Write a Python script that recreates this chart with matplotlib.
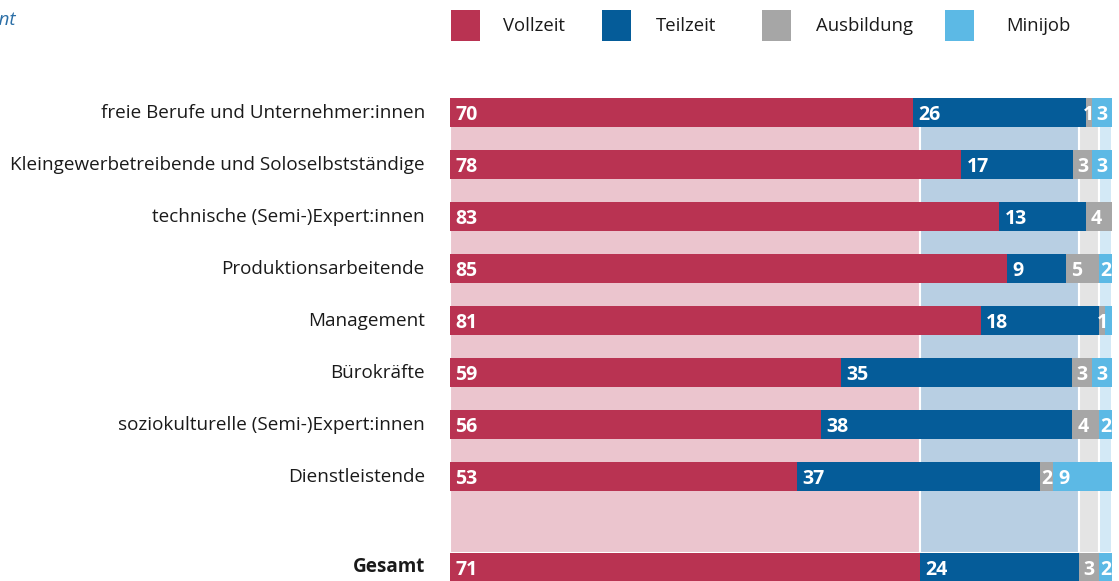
import matplotlib
matplotlib.use("Agg")
from matplotlib import pyplot as plt
from matplotlib.patches import Rectangle

plt.rcParams["font.family"] = ["Open Sans", "DejaVu Sans"]

kategorien = ["freie Berufe und Unternehmer:innen",
              "Kleingewerbetreibende und Soloselbstständige",
              "technische (Semi-)Expert:innen",
              "Produktionsarbeitende",
              "Management",
              "Bürokräfte",
              "soziokulturelle (Semi-)Expert:innen",
              "Dienstleistende",
              "Gesamt"]
vollzeit = [70, 78, 83, 85, 81, 59, 56, 53, 71]
teilzeit = [26, 17, 13, 9, 18, 35, 38, 37, 24]
ausbildung = [1, 3, 4, 5, 1, 3, 4, 2, 3]
minijob = [3, 3, 0, 2, 1, 3, 2, 9, 2]
# Management: Minijob-Anteil ohne Beschriftung
minijob_labels = ["3", "3", "", "2", "", "3", "2", "9", "2"]

serien = ["Vollzeit", "Teilzeit", "Ausbildung", "Minijob"]
farben = ["#b93352", "#055c99", "#a6a6a6", "#5cb9e5"]
hell = ["#ebc5ce", "#b8cfe3", "#e4e4e4", "#d3e9f6"]

fig = plt.figure(figsize=(11.19, 5.81), dpi=100)
ax = fig.add_axes([450 / 1119, 0, 662 / 1119, 1])

pos = [0, 1, 2, 3, 4, 5, 6, 7, 8.75]
h = 29 / 52
ax.set_xlim(0, 100)
ax.set_ylim(581 / 52 - 112.5 / 52, -112.5 / 52)
ax.axis("off")

# Hintergrund: Verteilung Gesamt
g = [vollzeit[-1], teilzeit[-1], ausbildung[-1], minijob[-1]]
top = -h / 2
bottom = pos[-1] - h / 2
links = 0
for v, c in zip(g, hell):
    ax.add_patch(Rectangle((links, top), v, bottom - top, facecolor=c,
                           edgecolor="white", linewidth=1.5, zorder=1))
    links += v

for i, y in enumerate(pos):
    werte = [vollzeit[i], teilzeit[i], ausbildung[i], minijob[i]]
    labels = [str(vollzeit[i]), str(teilzeit[i]), str(ausbildung[i]), minijob_labels[i]]
    summe = sum(werte)
    links = 0
    for v, lab, c in zip(werte, labels, farben):
        w = v / summe * 100
        if w == 0:
            continue
        ax.barh(y, w, left=links, height=h, color=c, zorder=2)
        if lab:
            if v >= 4:
                ax.text(links + 0.8, y + 0.04, lab, ha="left", va="center",
                        color="white", fontsize=14, fontweight="bold", zorder=3)
            else:
                ax.text(links + w / 2, y + 0.04, lab, ha="center", va="center",
                        color="white", fontsize=14, fontweight="bold", zorder=3)
        links += w
    ax.text(-3.8, y, kategorien[i], ha="right", va="center", fontsize=13.6,
            color="#1a1a1a", fontweight="bold" if kategorien[i] == "Gesamt" else "normal")

# Legende
lx = [451, 602, 762, 945]
tx = [503, 656, 816, 1006]
for s, c, x0, x1 in zip(serien, farben, lx, tx):
    fig.patches.append(Rectangle((x0 / 1119, 1 - 41 / 581), 29 / 1119, 31 / 581,
                                 transform=fig.transFigure, facecolor=c))
    fig.text(x1 / 1119, 1 - 26 / 581, s, ha="left", va="center", fontsize=13.3,
             color="#1a1a1a")

fig.text(15 / 1119, 1 - 20 / 581, "in Prozent", ha="right", va="center",
         fontsize=13.5, style="italic", color="#2a6ea6")

fig.savefig("out.png", dpi=100)
